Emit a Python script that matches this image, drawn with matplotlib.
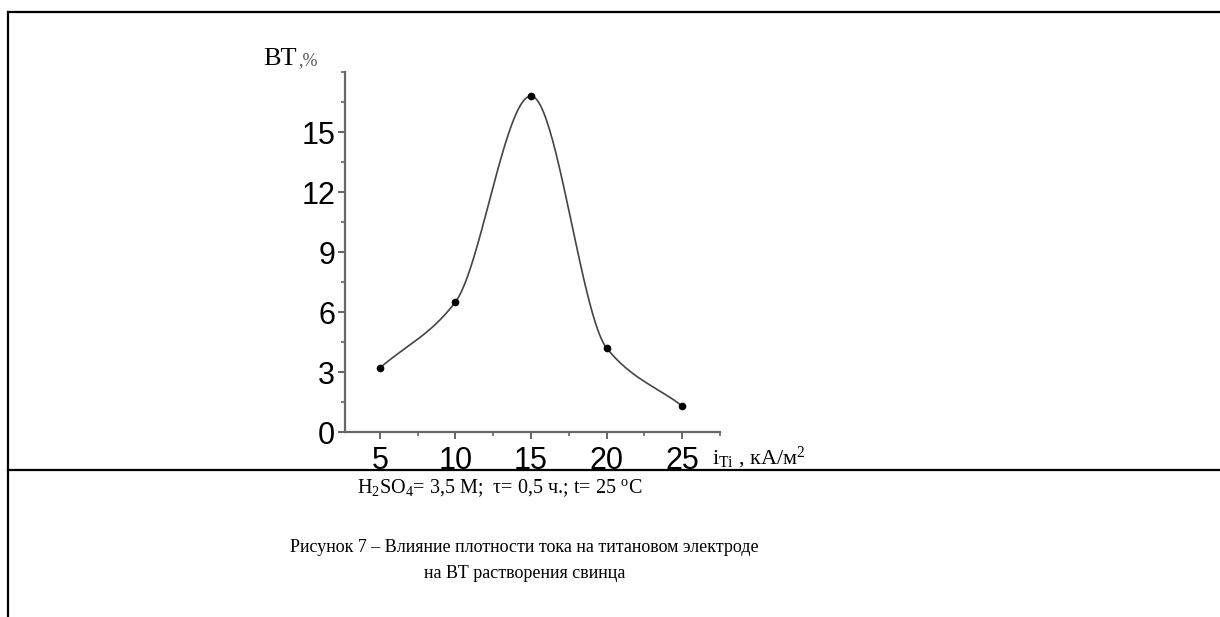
import numpy as np
import matplotlib
matplotlib.use("Agg")
from matplotlib import pyplot as plt
from matplotlib.lines import Line2D
from matplotlib.ticker import MultipleLocator

plt.rcParams['font.family'] = ['Liberation Sans', 'DejaVu Sans']
plt.rcParams['mathtext.fontset'] = 'custom'
plt.rcParams['mathtext.rm'] = 'Liberation Serif'
plt.rcParams['mathtext.it'] = 'Liberation Serif:italic'

# current density on titanium electrode, kA/m2
current_density = [5, 10, 15, 20, 25]
# current efficiency (BT), %
efficiency = [3.2, 6.5, 16.8, 4.2, 1.3]

x_ticks = [5, 10, 15, 20, 25]
y_ticks = [0, 3, 6, 9, 12, 15]


def pchip_line(xs, ys, n=50):
    # monotone cubic through the measured points (Fritsch-Carlson)
    x = np.asarray(xs, dtype=float)
    y = np.asarray(ys, dtype=float)
    h = np.diff(x)
    d = np.diff(y) / h
    m = np.zeros_like(y)
    for k in range(1, len(x) - 1):
        if d[k - 1] * d[k] > 0:
            w1 = 2 * h[k] + h[k - 1]
            w2 = h[k] + 2 * h[k - 1]
            m[k] = (w1 + w2) / (w1 / d[k - 1] + w2 / d[k])
    m[0] = d[0]
    m[-1] = d[-1]
    out_x, out_y = [], []
    for k in range(len(x) - 1):
        t = np.linspace(0, 1, n)
        h00 = 2 * t ** 3 - 3 * t ** 2 + 1
        h10 = t ** 3 - 2 * t ** 2 + t
        h01 = -2 * t ** 3 + 3 * t ** 2
        h11 = t ** 3 - t ** 2
        out_x.extend(x[k] + t * h[k])
        out_y.extend(h00 * y[k] + h10 * h[k] * m[k] + h01 * y[k + 1] + h11 * h[k] * m[k + 1])
    return np.array(out_x), np.array(out_y)


fig = plt.figure(figsize=(12.2, 6.17), dpi=100)
ax = fig.add_axes([0.2828, 0.2998, 0.3074, 0.5835])

sx, sy = pchip_line(current_density, efficiency)
ax.plot(sx, sy, color='#444444', lw=1.2)
ax.plot(current_density, efficiency, 'o', color='black', ms=4.5)

ax.set_xlim(2.7, 27.5)
ax.set_ylim(0, 18)
ax.set_xticks(x_ticks)
ax.set_yticks(y_ticks)
ax.xaxis.set_minor_locator(MultipleLocator(2.5))
ax.yaxis.set_minor_locator(MultipleLocator(1.5))

axis_color = '#666666'
for side in ('top', 'right'):
    ax.spines[side].set_visible(False)
for side in ('left', 'bottom'):
    ax.spines[side].set_color(axis_color)
    ax.spines[side].set_linewidth(1.6)
ax.tick_params(which='major', direction='out', length=5, width=1.4,
               color=axis_color, labelsize=22, pad=2)
ax.tick_params(which='minor', direction='out', length=3, width=1.2,
               color=axis_color)
ax.tick_params(axis='x', pad=5)

serif = ['Liberation Serif', 'DejaVu Serif']
fig.text(0.2155, 0.895, 'BT', family=serif, fontsize=19, ha='left', va='baseline')
fig.text(0.2445, 0.895, ',%', family=serif, fontsize=13, ha='left', va='baseline',
         color='#555555')
fig.text(0.584, 0.248, r'$\mathregular{i_{Ti}}$ , кА/м$^{\mathregular{2}}$',
         family=serif, fontsize=16, ha='left', va='baseline')

# frame lines of the figure table
frame = dict(color='black', lw=1.6, transform=fig.transFigure)
fig.add_artist(Line2D([0.0066, 1.0], [0.9806, 0.9806], **frame))
fig.add_artist(Line2D([0.0066, 0.0066], [0.0, 0.9806], **frame))
fig.add_artist(Line2D([0.0066, 1.0], [0.2383, 0.2383], **frame))

fig.text(0.41, 0.209, r'H$_{\mathregular{2}}$SO$_{\mathregular{4}}$= 3,5 M;  τ= 0,5 ч.; t= 25 $^{\mathregular{o}}$C',
         family=serif, fontsize=14.5, ha='center', va='center')
fig.text(0.43, 0.112, 'Рисунок 7 – Влияние плотности тока на титановом электроде',
         family=serif, fontsize=13, ha='center', va='center')
fig.text(0.43, 0.071, 'на ВТ растворения свинца',
         family=serif, fontsize=13, ha='center', va='center')

fig.savefig('out.png', dpi=100, facecolor='white')
